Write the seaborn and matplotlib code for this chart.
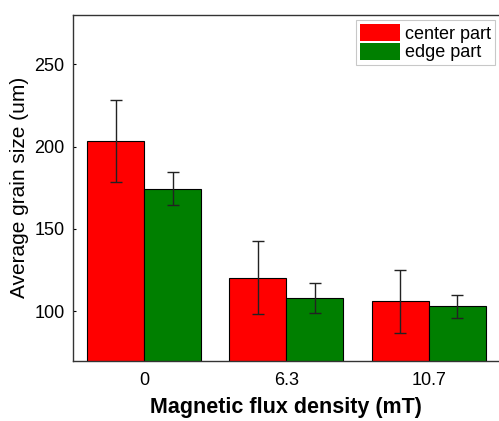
import pandas as pd
import matplotlib.pyplot as plt
import numpy as np
import seaborn as sns

flux = ["0", "6.3", "10.7"]
center = [203.5, 120.4, 106.0]
center_err = [25.0, 22.0, 19.0]
edge = [174.3, 108.3, 103.0]
edge_err = [10.0, 9.0, 7.0]

df = pd.DataFrame({
    "flux": flux * 2,
    "size": center + edge,
    "err": center_err + edge_err,
    "part": ["center part"] * 3 + ["edge part"] * 3,
})

sns.set_style("ticks")
plt.rcParams["font.family"] = ["Liberation Sans", "DejaVu Sans"]
plt.rcParams["text.color"] = "black"
plt.rcParams["axes.labelcolor"] = "black"
plt.rcParams["xtick.color"] = "black"
plt.rcParams["ytick.color"] = "black"

fig = plt.figure(figsize=(4.99, 4.21), dpi=100)
ax = fig.add_axes([0.146, 0.143, 0.856, 0.822])

sns.barplot(data=df, x="flux", y="size", hue="part", order=flux,
            palette={"center part": "#ff0000", "edge part": "#007f00"},
            edgecolor="black", linewidth=0.8, saturation=1, errorbar=None, ax=ax)

# error bars placed on the bar centres
for cont, part in zip(ax.containers, ["center part", "edge part"]):
    sub = df[df["part"] == part]
    xs = [p.get_x() + p.get_width() / 2 for p in cont.patches]
    ax.errorbar(xs, sub["size"], yerr=sub["err"], fmt="none", ecolor="#222222",
                elinewidth=1, capsize=4, capthick=1)

ax.set_xlim(-0.5, 2.5)
ax.set_ylim(70, 280)
ax.set_yticks([100, 150, 200, 250])
ax.set_xlabel("Magnetic flux density (mT)", fontsize=15.5, fontweight="bold", labelpad=6)
ax.set_ylabel("Average grain size (um)", fontsize=15, labelpad=4)
ax.tick_params(axis="y", direction="in", length=2, labelsize=13, pad=6)
ax.tick_params(axis="x", length=0, labelsize=13, pad=8)
for s in ax.spines.values():
    s.set_linewidth(1)
    s.set_color("#333333")

leg = ax.legend(loc="upper right", fontsize=13, frameon=True, fancybox=False,
                edgecolor="#bbbbbb", handlelength=2.2, handleheight=1.1,
                handletextpad=0.3, labelspacing=0.0, borderpad=0.2,
                borderaxespad=0.3, title=None)
leg.get_frame().set_linewidth(0.8)
for h in leg.legend_handles:
    h.set_edgecolor("none")

fig.savefig("out.png", dpi=100)
